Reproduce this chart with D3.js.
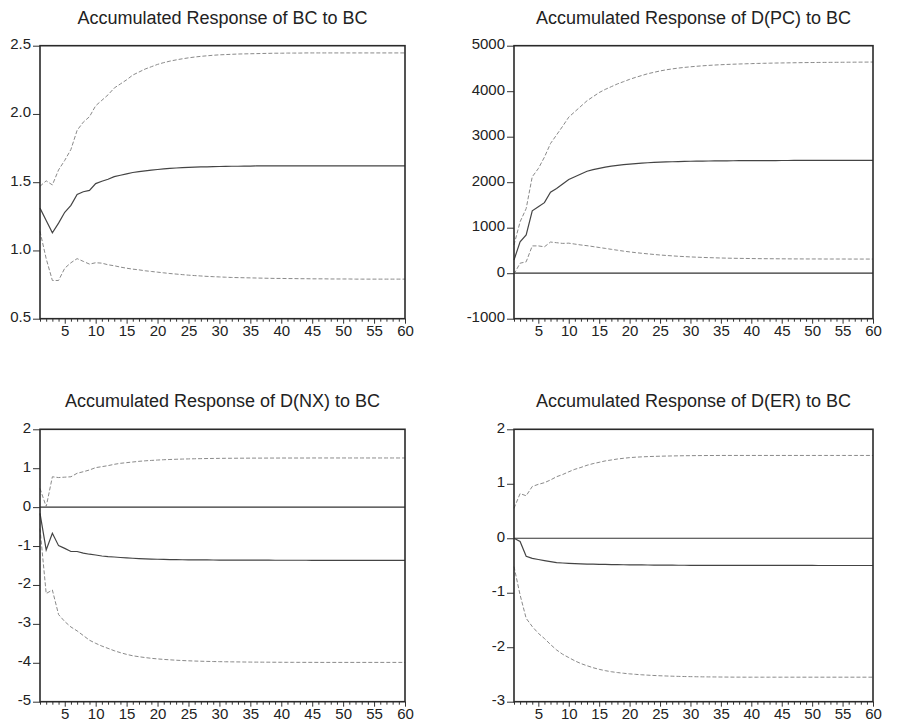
<!DOCTYPE html>
<html>
<head>
<meta charset="utf-8">
<script src="https://cdnjs.cloudflare.com/ajax/libs/d3/7.8.5/d3.min.js"></script>
<style>
  body { margin: 0; background: #fff; }
  svg { display: block; font-family: "Liberation Sans", Arial, sans-serif; }
</style>
</head>
<body>
<div id="chart"></div>
<script>
// horizon (periods 1..60)
const periods = d3.range(1, 61);

// Accumulated Response of BC to BC
const bcResp = [1.31, 1.22, 1.13, 1.20, 1.28, 1.33, 1.41, 1.43, 1.44, 1.49,
  1.507, 1.522, 1.541, 1.551, 1.561, 1.571, 1.578, 1.583, 1.588, 1.593,
  1.597, 1.601, 1.604, 1.607, 1.609, 1.611, 1.612, 1.613, 1.614, 1.615,
  1.616, 1.617, 1.617, 1.618, 1.618, 1.619, 1.619, 1.619, 1.620, 1.620,
  1.620, 1.620, 1.620, 1.620, 1.620, 1.620, 1.620, 1.620, 1.620, 1.620,
  1.620, 1.620, 1.620, 1.620, 1.620, 1.620, 1.620, 1.620, 1.620, 1.620];
const bcUpper = [1.47, 1.51, 1.48, 1.59, 1.66, 1.74, 1.88, 1.94, 1.98, 2.06,
  2.10, 2.14, 2.19, 2.22, 2.25, 2.285, 2.307, 2.329, 2.346, 2.363,
  2.376, 2.387, 2.396, 2.404, 2.411, 2.417, 2.422, 2.426, 2.430, 2.433,
  2.435, 2.437, 2.439, 2.440, 2.441, 2.442, 2.443, 2.444, 2.445, 2.445,
  2.446, 2.446, 2.446, 2.447, 2.447, 2.447, 2.447, 2.447, 2.447, 2.447,
  2.447, 2.447, 2.447, 2.447, 2.447, 2.447, 2.447, 2.447, 2.447, 2.447];
const bcLower = [1.14, 0.94, 0.78, 0.78, 0.87, 0.91, 0.94, 0.92, 0.90, 0.91,
  0.907, 0.895, 0.888, 0.878, 0.870, 0.863, 0.858, 0.851, 0.846, 0.841,
  0.836, 0.831, 0.827, 0.823, 0.819, 0.816, 0.813, 0.810, 0.808, 0.806,
  0.804, 0.802, 0.801, 0.800, 0.799, 0.798, 0.797, 0.796, 0.795, 0.795,
  0.794, 0.794, 0.793, 0.793, 0.792, 0.792, 0.792, 0.791, 0.791, 0.791,
  0.791, 0.790, 0.790, 0.790, 0.790, 0.790, 0.790, 0.790, 0.790, 0.790];

// Accumulated Response of D(PC) to BC
const pcResp = [290, 690, 840, 1370, 1460, 1550, 1780, 1860, 1960, 2060,
  2120, 2180, 2240, 2275, 2305, 2333, 2355, 2370, 2385, 2399,
  2410, 2420, 2428, 2435, 2441, 2446, 2450, 2454, 2457, 2460,
  2462, 2464, 2466, 2468, 2469, 2470, 2471, 2472, 2473, 2474,
  2475, 2475, 2476, 2476, 2477, 2477, 2478, 2478, 2478, 2479,
  2479, 2479, 2479, 2480, 2480, 2480, 2480, 2480, 2480, 2480];
const pcUpper = [620, 1130, 1420, 2120, 2300, 2550, 2850, 3040, 3230, 3430,
  3550, 3670, 3790, 3880, 3970, 4040, 4100, 4160, 4210, 4260,
  4305, 4345, 4385, 4415, 4445, 4470, 4490, 4508, 4523, 4536,
  4548, 4558, 4567, 4575, 4582, 4588, 4593, 4598, 4602, 4606,
  4610, 4613, 4616, 4619, 4621, 4623, 4625, 4627, 4629, 4630,
  4632, 4633, 4634, 4635, 4636, 4637, 4638, 4639, 4640, 4641];
const pcLower = [-20, 220, 250, 600, 600, 580, 685, 670, 655, 660,
  640, 620, 605, 585, 565, 545, 525, 505, 485, 468,
  452, 438, 425, 412, 400, 390, 381, 372, 365, 358,
  352, 347, 342, 338, 334, 331, 328, 326, 324, 322,
  320, 319, 318, 317, 316, 315, 314, 314, 313, 313,
  313, 312, 312, 312, 312, 311, 311, 311, 311, 311];

// Accumulated Response of D(NX) to BC
const nxResp = [-0.16, -1.10, -0.67, -0.99, -1.06, -1.14, -1.14, -1.18, -1.21, -1.23,
  -1.256, -1.273, -1.282, -1.295, -1.305, -1.314, -1.322, -1.329, -1.335, -1.340,
  -1.344, -1.347, -1.350, -1.352, -1.354, -1.356, -1.357, -1.358, -1.359, -1.360,
  -1.361, -1.362, -1.362, -1.363, -1.363, -1.364, -1.364, -1.364, -1.365, -1.365,
  -1.365, -1.365, -1.365, -1.365, -1.366, -1.366, -1.366, -1.366, -1.366, -1.366,
  -1.366, -1.366, -1.366, -1.366, -1.366, -1.366, -1.366, -1.366, -1.366, -1.366];
const nxUpper = [0.48, 0.01, 0.78, 0.76, 0.77, 0.78, 0.87, 0.91, 0.955, 1.015,
  1.04, 1.066, 1.10, 1.126, 1.143, 1.16, 1.177, 1.19, 1.20, 1.21,
  1.218, 1.224, 1.23, 1.235, 1.239, 1.243, 1.246, 1.249, 1.251, 1.253,
  1.255, 1.256, 1.257, 1.258, 1.259, 1.260, 1.260, 1.261, 1.261, 1.262,
  1.262, 1.262, 1.262, 1.262, 1.263, 1.263, 1.263, 1.263, 1.263, 1.263,
  1.263, 1.263, 1.263, 1.263, 1.263, 1.263, 1.263, 1.263, 1.263, 1.263];
const nxLower = [-0.55, -2.22, -2.13, -2.76, -2.94, -3.08, -3.18, -3.30, -3.42, -3.50,
  -3.57, -3.63, -3.69, -3.74, -3.784, -3.82, -3.844, -3.866, -3.885, -3.90,
  -3.913, -3.924, -3.934, -3.942, -3.949, -3.955, -3.96, -3.964, -3.968, -3.971,
  -3.974, -3.976, -3.978, -3.98, -3.982, -3.983, -3.984, -3.985, -3.986, -3.987,
  -3.988, -3.988, -3.989, -3.989, -3.989, -3.99, -3.99, -3.99, -3.99, -3.99,
  -3.99, -3.99, -3.99, -3.99, -3.99, -3.99, -3.99, -3.99, -3.99, -3.99];

// Accumulated Response of D(ER) to BC
const erResp = [0.00, -0.06, -0.33, -0.37, -0.39, -0.41, -0.43, -0.448, -0.454, -0.46,
  -0.466, -0.470, -0.473, -0.476, -0.478, -0.481, -0.483, -0.485, -0.486, -0.488,
  -0.489, -0.490, -0.491, -0.492, -0.493, -0.494, -0.494, -0.495, -0.495, -0.496,
  -0.496, -0.496, -0.497, -0.497, -0.497, -0.497, -0.498, -0.498, -0.498, -0.498,
  -0.498, -0.498, -0.499, -0.499, -0.499, -0.499, -0.499, -0.499, -0.499, -0.499,
  -0.50, -0.50, -0.50, -0.50, -0.50, -0.50, -0.50, -0.50, -0.50, -0.50];
const erUpper = [0.55, 0.82, 0.78, 0.95, 0.99, 1.02, 1.07, 1.13, 1.17, 1.22,
  1.266, 1.30, 1.34, 1.37, 1.394, 1.42, 1.437, 1.455, 1.468, 1.48,
  1.488, 1.494, 1.499, 1.503, 1.506, 1.509, 1.511, 1.513, 1.515, 1.516,
  1.517, 1.518, 1.519, 1.519, 1.52, 1.52, 1.52, 1.52, 1.52, 1.52,
  1.52, 1.52, 1.52, 1.52, 1.52, 1.52, 1.52, 1.52, 1.52, 1.52,
  1.52, 1.52, 1.52, 1.52, 1.52, 1.52, 1.52, 1.52, 1.52, 1.52];
const erLower = [-0.52, -1.04, -1.47, -1.62, -1.745, -1.84, -1.95, -2.05, -2.13, -2.19,
  -2.25, -2.30, -2.34, -2.376, -2.406, -2.43, -2.45, -2.465, -2.478, -2.489,
  -2.498, -2.506, -2.513, -2.519, -2.524, -2.528, -2.532, -2.535, -2.538, -2.54,
  -2.542, -2.544, -2.545, -2.546, -2.547, -2.548, -2.549, -2.549, -2.55, -2.55,
  -2.55, -2.55, -2.55, -2.55, -2.55, -2.55, -2.55, -2.55, -2.55, -2.55,
  -2.55, -2.55, -2.55, -2.55, -2.55, -2.55, -2.55, -2.55, -2.55, -2.55];

// y tick labels per panel
const bcTicks = [0.5, 1.0, 1.5, 2.0, 2.5];
const pcTicks = [-1000, 0, 1000, 2000, 3000, 4000, 5000];
const nxTicks = [-5, -4, -3, -2, -1, 0, 1, 2];
const erTicks = [-3, -2, -1, 0, 1, 2];

const width = 900, height = 726;

const svg = d3.select("#chart").append("svg")
  .attr("width", width)
  .attr("height", height);

const panels = [
  { title: "Accumulated Response of BC to BC", left: 40, right: 405, top: 45.7, bottom: 318.7,
    domain: [0.5, 2.5], ticks: bcTicks, fmt: d => d.toFixed(1), zero: false,
    resp: bcResp, upper: bcUpper, lower: bcLower },
  { title: "Accumulated Response of D(PC) to BC", left: 514, right: 873, top: 45.7, bottom: 318.7,
    domain: [-1000, 5000], ticks: pcTicks, fmt: d => String(d), zero: true,
    resp: pcResp, upper: pcUpper, lower: pcLower },
  { title: "Accumulated Response of D(NX) to BC", left: 40, right: 405, top: 429.3, bottom: 701.7,
    domain: [-5, 2], ticks: nxTicks, fmt: d => String(d), zero: true,
    resp: nxResp, upper: nxUpper, lower: nxLower },
  { title: "Accumulated Response of D(ER) to BC", left: 514, right: 873, top: 429.3, bottom: 701.7,
    domain: [-3, 2], ticks: erTicks, fmt: d => String(d), zero: true,
    resp: erResp, upper: erUpper, lower: erLower }
];

panels.forEach(p => drawPanel(p));

function drawPanel(p) {
  const x = d3.scaleLinear().domain([1, 60]).range([p.left, p.right]);
  const y = d3.scaleLinear().domain(p.domain).range([p.bottom, p.top]);
  const g = svg.append("g");

  // title
  g.append("text")
    .attr("x", (p.left + p.right) / 2)
    .attr("y", p.top - 22)
    .attr("text-anchor", "middle")
    .style("font-size", "18px")
    .style("fill", "#222")
    .text(p.title);

  // y axis
  const yAxis = g.append("g")
    .attr("transform", `translate(${p.left},0)`)
    .call(d3.axisLeft(y).tickValues(p.ticks).tickFormat(p.fmt)
      .tickSize(7).tickSizeOuter(0).tickPadding(2));
  yAxis.select(".domain").remove();
  yAxis.selectAll("line").attr("stroke", "#333");
  yAxis.selectAll("text")
    .attr("dy", "0.2em")
    .style("font-size", "15px")
    .style("font-family", "'Liberation Sans', Arial, sans-serif")
    .style("fill", "#222");

  // x axis: minor tick each period, labels every 5
  const xAxis = g.append("g")
    .attr("transform", `translate(0,${p.bottom})`)
    .call(d3.axisBottom(x).tickValues(periods)
      .tickFormat(d => d % 5 === 0 ? d : "")
      .tickSize(3).tickSizeOuter(0).tickPadding(2));
  xAxis.select(".domain").remove();
  xAxis.selectAll(".tick line")
    .attr("stroke", "#333")
    .attr("y2", d => d % 5 === 0 ? 5 : 3);
  xAxis.selectAll("text")
    .attr("y", 7)
    .style("font-size", "15px")
    .style("font-family", "'Liberation Sans', Arial, sans-serif")
    .style("fill", "#222");

  // zero line
  if (p.zero) {
    g.append("line")
      .attr("x1", p.left).attr("x2", p.right)
      .attr("y1", y(0)).attr("y2", y(0))
      .attr("stroke", "#333")
      .attr("stroke-width", 1.2);
  }

  const line = d3.line()
    .x((d, i) => x(periods[i]))
    .y(d => y(d));

  // confidence bands
  [p.upper, p.lower].forEach(s => {
    g.append("path")
      .attr("d", line(s))
      .attr("fill", "none")
      .attr("stroke", "#8a8a8a")
      .attr("stroke-width", 1)
      .attr("stroke-dasharray", "4,2");
  });

  // response
  g.append("path")
    .attr("d", line(p.resp))
    .attr("fill", "none")
    .attr("stroke", "#444")
    .attr("stroke-width", 1.2);

  // frame
  g.append("rect")
    .attr("x", p.left).attr("y", p.top)
    .attr("width", p.right - p.left)
    .attr("height", p.bottom - p.top)
    .attr("fill", "none")
    .attr("stroke", "#2a2a2a")
    .attr("stroke-width", 1.6);
}
</script>
</body>
</html>
